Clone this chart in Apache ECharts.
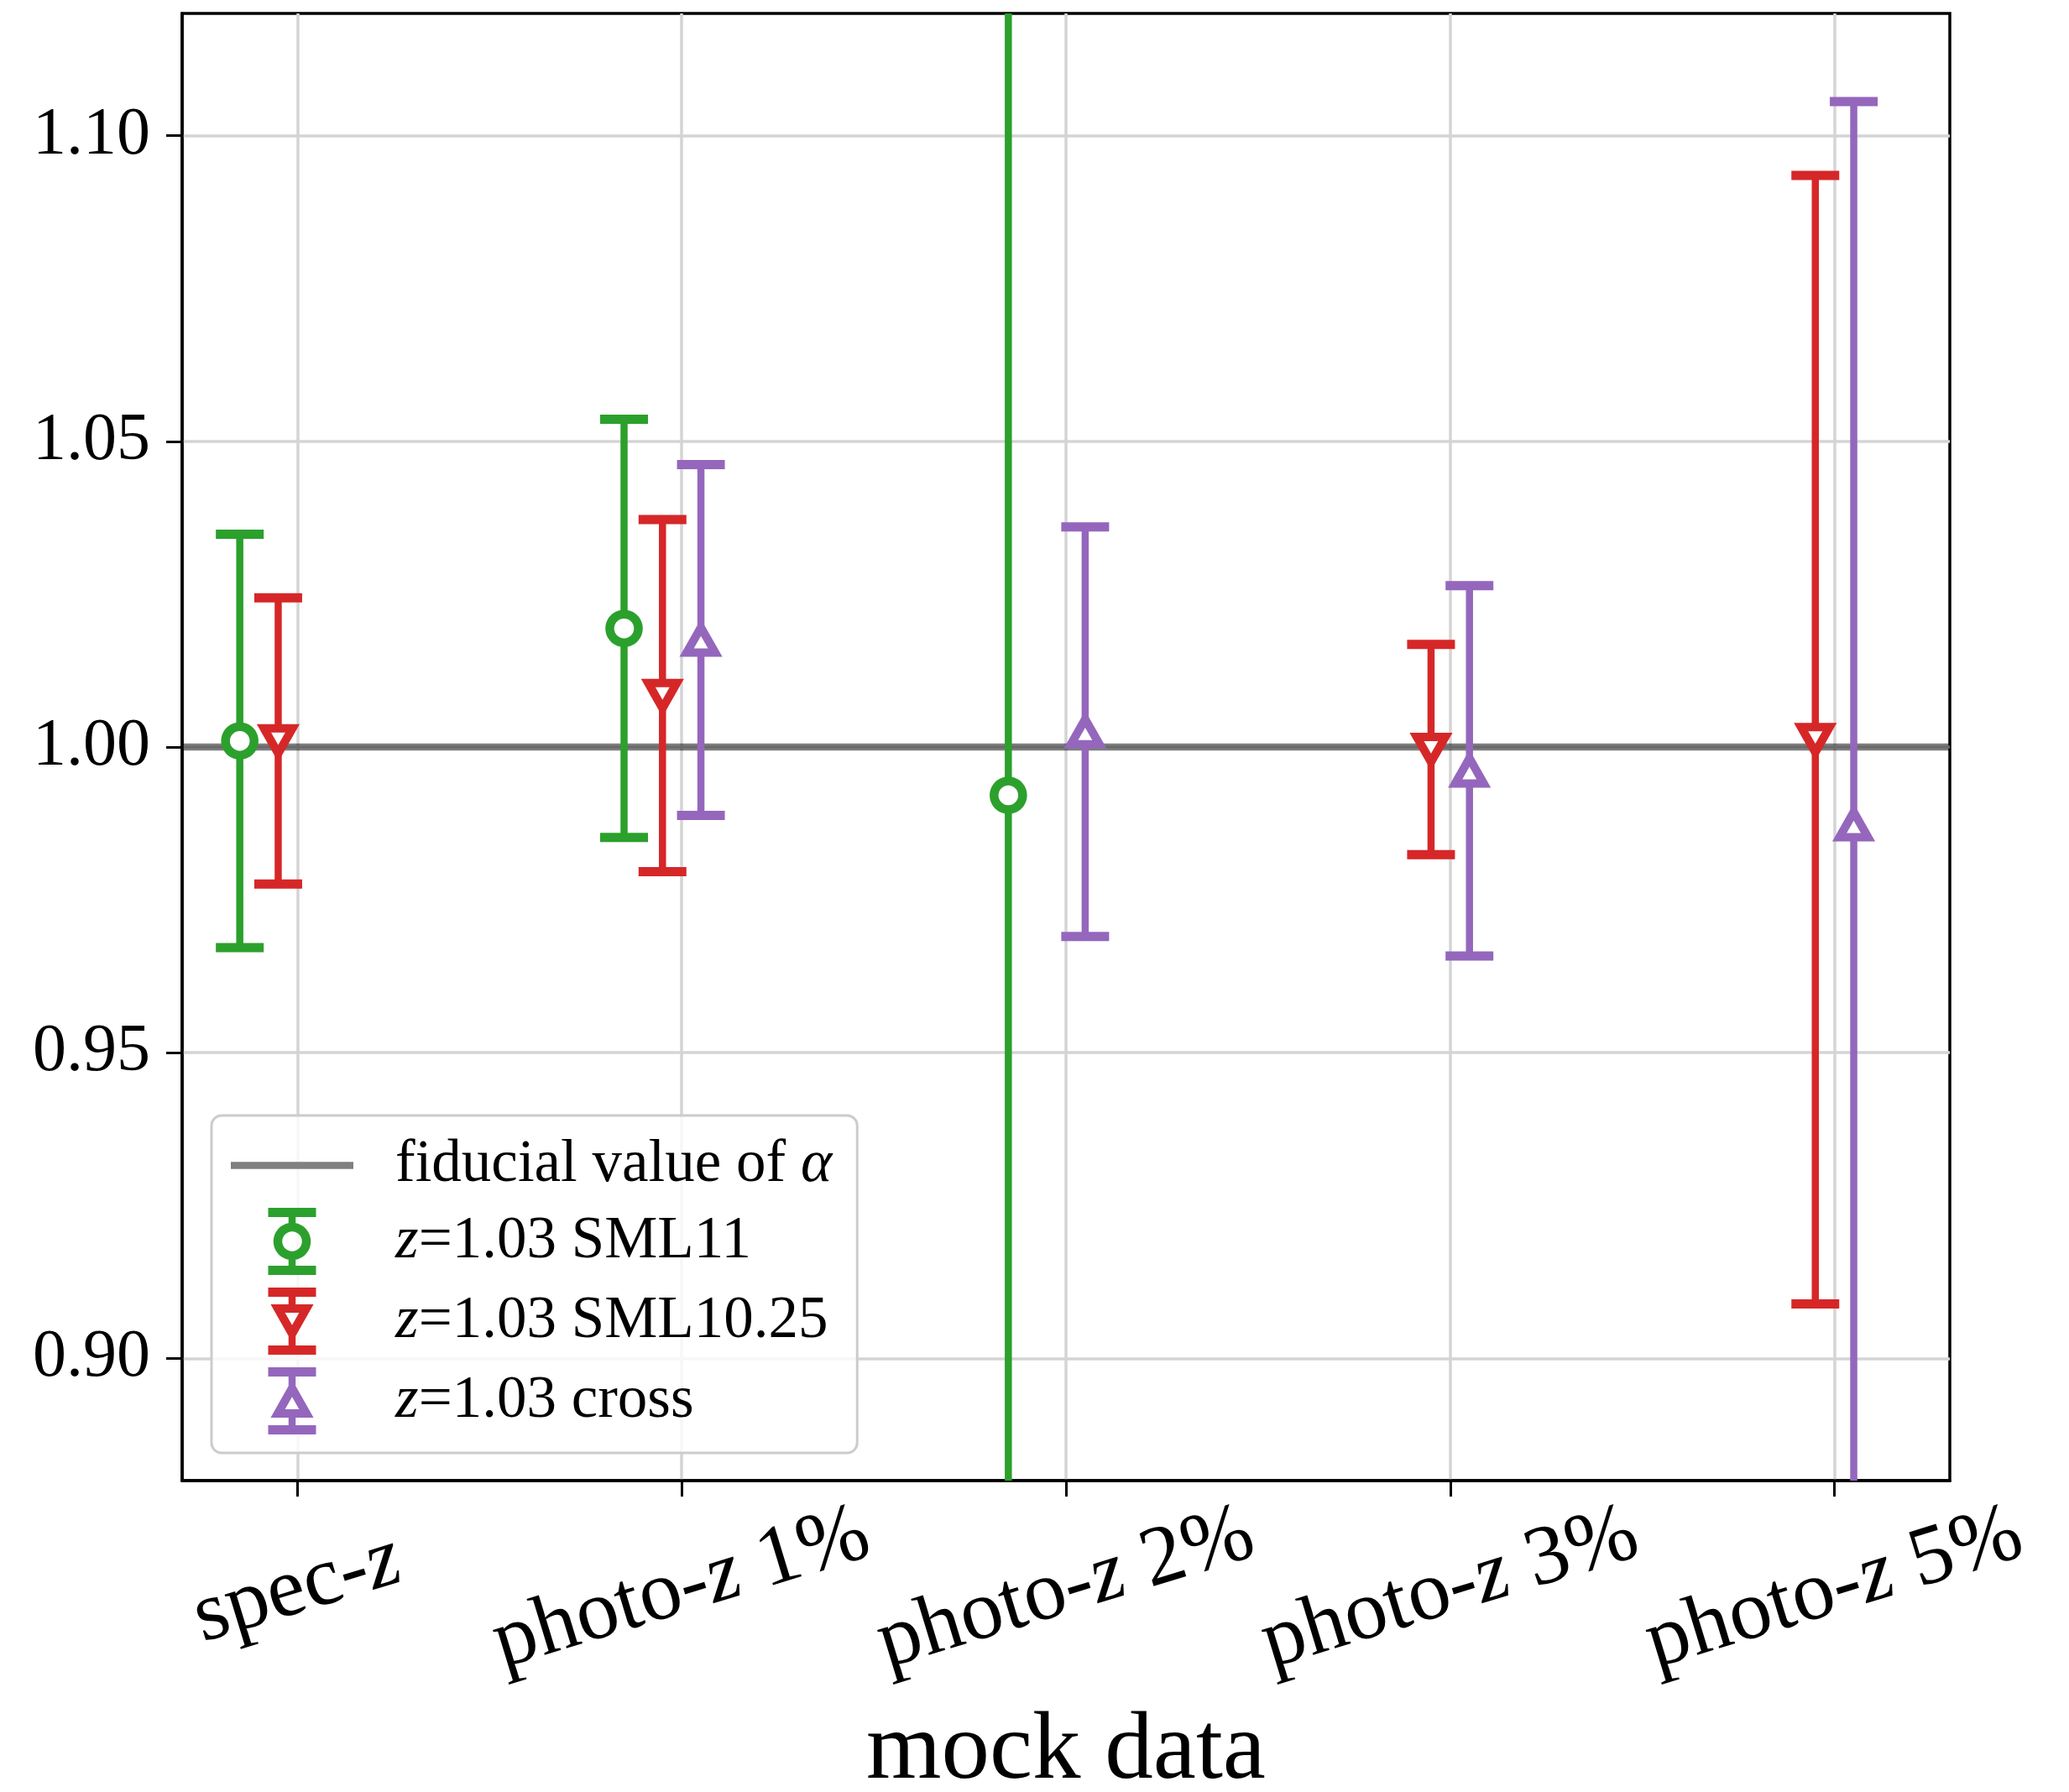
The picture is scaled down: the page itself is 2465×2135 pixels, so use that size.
<!DOCTYPE html>
<html>
<head>
<meta charset="utf-8">
<script src="https://cdn.jsdelivr.net/npm/echarts@6/dist/echarts.min.js"></script>
<style>
html, body { margin: 0; padding: 0; background: #ffffff; }
#chart { width: 2465px; height: 2135px; }
</style>
</head>
<body>
<div id="chart"></div>
<script>
// ---------------- data ----------------
const categories = ['spec-z', 'photo-z 1%', 'photo-z 2%', 'photo-z 3%', 'photo-z 5%'];
const yTickValues = [0.90, 0.95, 1.00, 1.05, 1.10];
const fiducialAlpha = 1.00;

const sml11Value   = [1.0010, 1.0194, 0.9921, null, null];
const sml11Error   = [0.0338, 0.0342, 0.1600, null, null];

const sml1025Value = [1.0010, 1.0084, null, 0.9996, 1.0012];
const sml1025Error = [0.0234, 0.0288, null, 0.0172, 0.0923];

const crossValue   = [null, 1.0175, 1.0025, 0.9961, 0.9873];
const crossError   = [null, 0.0287, 0.0335, 0.0303, 0.1183];

const seriesNames = ['z=1.03 SML11', 'z=1.03 SML10.25', 'z=1.03 cross'];
const fiducialName = 'fiducial value of α';

// ---------------- styling / layout ----------------
const X_MIN = -0.3, X_MAX = 4.3;
const Y_MIN = 0.88, Y_MAX = 1.12;
const FONT = '"Liberation Serif", "Times New Roman", serif';
const COLORS = ['#2ca02c', '#d62728', '#9467bd'];
const OFFSETS = [-0.15, -0.05, 0.05];
const MARKERS = ['circle', 'down', 'up'];

const ELW = 8.5;      // errorbar line width
const CAP_W = 57;     // cap length
const CAP_T = 11;     // cap thickness
const CIRC_R = 17, CIRC_LW = 10.5;
const TRI_W = 34, TRI_H = 30, TRI_LW = 10;

function triGeom(cx, cy, dir) {
  // dir: +1 => apex up ('^'), -1 => apex down ('v')
  const apex = [cx, cy - dir * TRI_H / 2];
  const bl = [cx - TRI_W / 2, cy + dir * TRI_H / 2];
  const br = [cx + TRI_W / 2, cy + dir * TRI_H / 2];
  const area = TRI_W * TRI_H / 2;
  const per = TRI_W + 2 * Math.sqrt((TRI_W / 2) ** 2 + TRI_H ** 2);
  const r = 2 * area / per;
  const inc = [cx, cy + dir * TRI_H / 2 - dir * r];
  const d = TRI_LW / 2;
  const sc = (k) => [apex, br, bl].map(v => [inc[0] + (v[0] - inc[0]) * k, inc[1] + (v[1] - inc[1]) * k]);
  return { outer: sc((r + d) / r), inner: sc((r - d) / r) };
}
function circlePts(cx, cy, r, n) {
  const pts = [];
  for (let i = 0; i < n; i++) {
    const a = 2 * Math.PI * i / n;
    pts.push([cx + r * Math.cos(a), cy + r * Math.sin(a)]);
  }
  return pts;
}
function signedArea(pts) {
  let s = 0;
  for (let i = 0; i < pts.length; i++) {
    const a = pts[i], b = pts[(i + 1) % pts.length];
    s += a[0] * b[1] - b[0] * a[1];
  }
  return s;
}
function polyPath(pts, cw) {
  let p = pts.slice();
  if ((signedArea(p) > 0) !== cw) p.reverse();
  return 'M' + p.map(q => q[0].toFixed(2) + ',' + q[1].toFixed(2)).join(' L') + ' Z ';
}
function rectPts(x0, y0, x1, y1) { return [[x0, y0], [x1, y0], [x1, y1], [x0, y1]]; }

function markerPolys(kind, cx, cy) {
  if (kind === 'circle') {
    return { outer: circlePts(cx, cy, CIRC_R + CIRC_LW / 2, 64), inner: circlePts(cx, cy, CIRC_R - CIRC_LW / 2, 64),
             top: cy - CIRC_R, bottom: cy + CIRC_R };
  }
  const dir = kind === 'up' ? 1 : -1;
  const g = triGeom(cx, cy, dir);
  return { outer: g.outer, inner: g.inner, top: cy - TRI_H / 2, bottom: cy + TRI_H / 2 };
}

function legendIcon(kind) {
  const W = CAP_W, H = 80, cx = W / 2, cy = H / 2;
  const m = markerPolys(kind, cx, cy);
  let p = 'path://';
  p += polyPath(rectPts(0, 0, W, CAP_T), true);
  p += polyPath(rectPts(cx - ELW / 2, CAP_T, cx + ELW / 2, m.top + 1), true);
  p += polyPath(m.outer, true);
  p += polyPath(m.inner, false);
  p += polyPath(rectPts(cx - ELW / 2, m.bottom - 1, cx + ELW / 2, H - CAP_T), true);
  p += polyPath(rectPts(0, H - CAP_T, W, H), true);
  return p;
}

function buildData(values, errors, offset) {
  const out = [];
  categories.forEach((c, i) => {
    if (values[i] !== null) out.push([i + offset, values[i], errors[i]]);
  });
  return out;
}

function makeRenderItem(kind, color) {
  return function (params, api) {
    const x = api.value(0), y = api.value(1), e = api.value(2);
    const hiV = y + e, loV = y - e;
    const hi = Math.min(hiV, Y_MAX), lo = Math.max(loV, Y_MIN);
    const pHi = api.coord([x, hi]);
    const pLo = api.coord([x, lo]);
    const pC = api.coord([x, y]);
    const children = [];
    children.push({ type: 'line', shape: { x1: pHi[0], y1: pHi[1], x2: pLo[0], y2: pLo[1] },
      style: { stroke: color, lineWidth: ELW, lineCap: 'butt' } });
    if (hiV <= Y_MAX) children.push({ type: 'line',
      shape: { x1: pHi[0] - CAP_W / 2, y1: pHi[1], x2: pHi[0] + CAP_W / 2, y2: pHi[1] },
      style: { stroke: color, lineWidth: CAP_T, lineCap: 'butt' } });
    if (loV >= Y_MIN) children.push({ type: 'line',
      shape: { x1: pLo[0] - CAP_W / 2, y1: pLo[1], x2: pLo[0] + CAP_W / 2, y2: pLo[1] },
      style: { stroke: color, lineWidth: CAP_T, lineCap: 'butt' } });
    const m = markerPolys(kind, pC[0], pC[1]);
    children.push({ type: 'polygon', shape: { points: m.outer }, style: { fill: color } });
    children.push({ type: 'polygon', shape: { points: m.inner }, style: { fill: '#ffffff' } });
    return { type: 'group', children };
  };
}

const allValues = [sml11Value, sml1025Value, crossValue];
const allErrors = [sml11Error, sml1025Error, crossError];

const series = [{
  name: fiducialName,
  type: 'line',
  data: [[X_MIN, fiducialAlpha], [X_MAX, fiducialAlpha]],
  symbol: 'none',
  lineStyle: { color: '#000000', opacity: 0.5, width: 8.3 },
  itemStyle: { color: '#808080' },
  z: 2,
  silent: true
}];
seriesNames.forEach((nm, k) => {
  series.push({
    name: nm,
    type: 'custom',
    data: buildData(allValues[k], allErrors[k], OFFSETS[k]),
    encode: { x: 0, y: 1 },
    renderItem: makeRenderItem(MARKERS[k], COLORS[k]),
    itemStyle: { color: COLORS[k] },
    z: 3 + k,
    silent: true
  });
});

const lineIcon = 'path://M0,0 L146,0 L146,8.3 L0,8.3 Z';
const legendData = [{ name: fiducialName, icon: lineIcon, itemStyle: { color: '#808080', borderWidth: 0 } }]
  .concat(seriesNames.map((nm, k) => ({ name: nm, icon: legendIcon(MARKERS[k]), itemStyle: { color: COLORS[k], borderWidth: 0 } })));

const gridLine = { show: true, lineStyle: { color: '#d4d4d4', width: 3.5 } };

const option = {
  animation: false,
  backgroundColor: '#ffffff',
  grid: {
    left: 217, top: 16, width: 2106, height: 1748,
    containLabel: false, outerBoundsMode: 'none',
    show: true, borderColor: '#000000', borderWidth: 3.5, backgroundColor: 'transparent'
  },
  xAxis: {
    type: 'value', min: X_MIN, max: X_MAX,
    name: 'mock data', nameLocation: 'middle', nameGap: 266,
    nameTextStyle: { fontFamily: FONT, fontSize: 115, color: '#000000' },
    axisLine: { show: true, onZero: false, lineStyle: { color: '#000000', width: 3.5 } },
    axisTick: { show: true, inside: false, length: 19, lineStyle: { color: '#000000', width: 3 },
                customValues: categories.map((c, i) => i) },
    axisLabel: {
      show: true, customValues: categories.map((c, i) => i),
      rotate: 17, align: 'center', verticalAlign: 'middle', margin: 130,
      fontFamily: FONT, fontSize: 101, color: '#000000',
      formatter: (v) => categories[Math.round(v)].replace('-z', '-{i|z}'),
      rich: { i: { fontStyle: 'italic', fontFamily: FONT, fontSize: 101, color: '#000000' } }
    },
    splitLine: gridLine
  },
  yAxis: {
    type: 'value', min: Y_MIN, max: Y_MAX,
    axisLine: { show: true, onZero: false, lineStyle: { color: '#000000', width: 3.5 } },
    axisTick: { show: true, inside: false, length: 19, lineStyle: { color: '#000000', width: 3 },
                customValues: yTickValues },
    axisLabel: {
      show: true, customValues: yTickValues, margin: 38,
      fontFamily: FONT, fontSize: 80, color: '#000000',
      formatter: (v) => v.toFixed(2)
    },
    splitLine: gridLine
  },
  legend: {
    show: true, orient: 'vertical', left: 252, top: 1329,
    itemWidth: 146, itemHeight: 80, itemGap: 15, symbolKeepAspect: true,
    padding: [24, 30, 22, 23],
    backgroundColor: 'rgba(255,255,255,0.8)', borderColor: '#cccccc', borderWidth: 3, borderRadius: 12,
    selectedMode: false,
    data: legendData,
    formatter: (name) => name.replace(/^z=/, '{i|z}=').replace('α', '{i|α}'),
    textStyle: {
      fontFamily: FONT, fontSize: 71, color: '#000000', padding: [0, 0, 0, 45],
      rich: { i: { fontStyle: 'italic', fontFamily: FONT, fontSize: 71, color: '#000000' } }
    }
  },
  series: series
};

const chart = echarts.init(document.getElementById('chart'), null, { renderer: 'canvas', width: 2465, height: 2135 });
chart.setOption(option);
</script>
</body>
</html>
